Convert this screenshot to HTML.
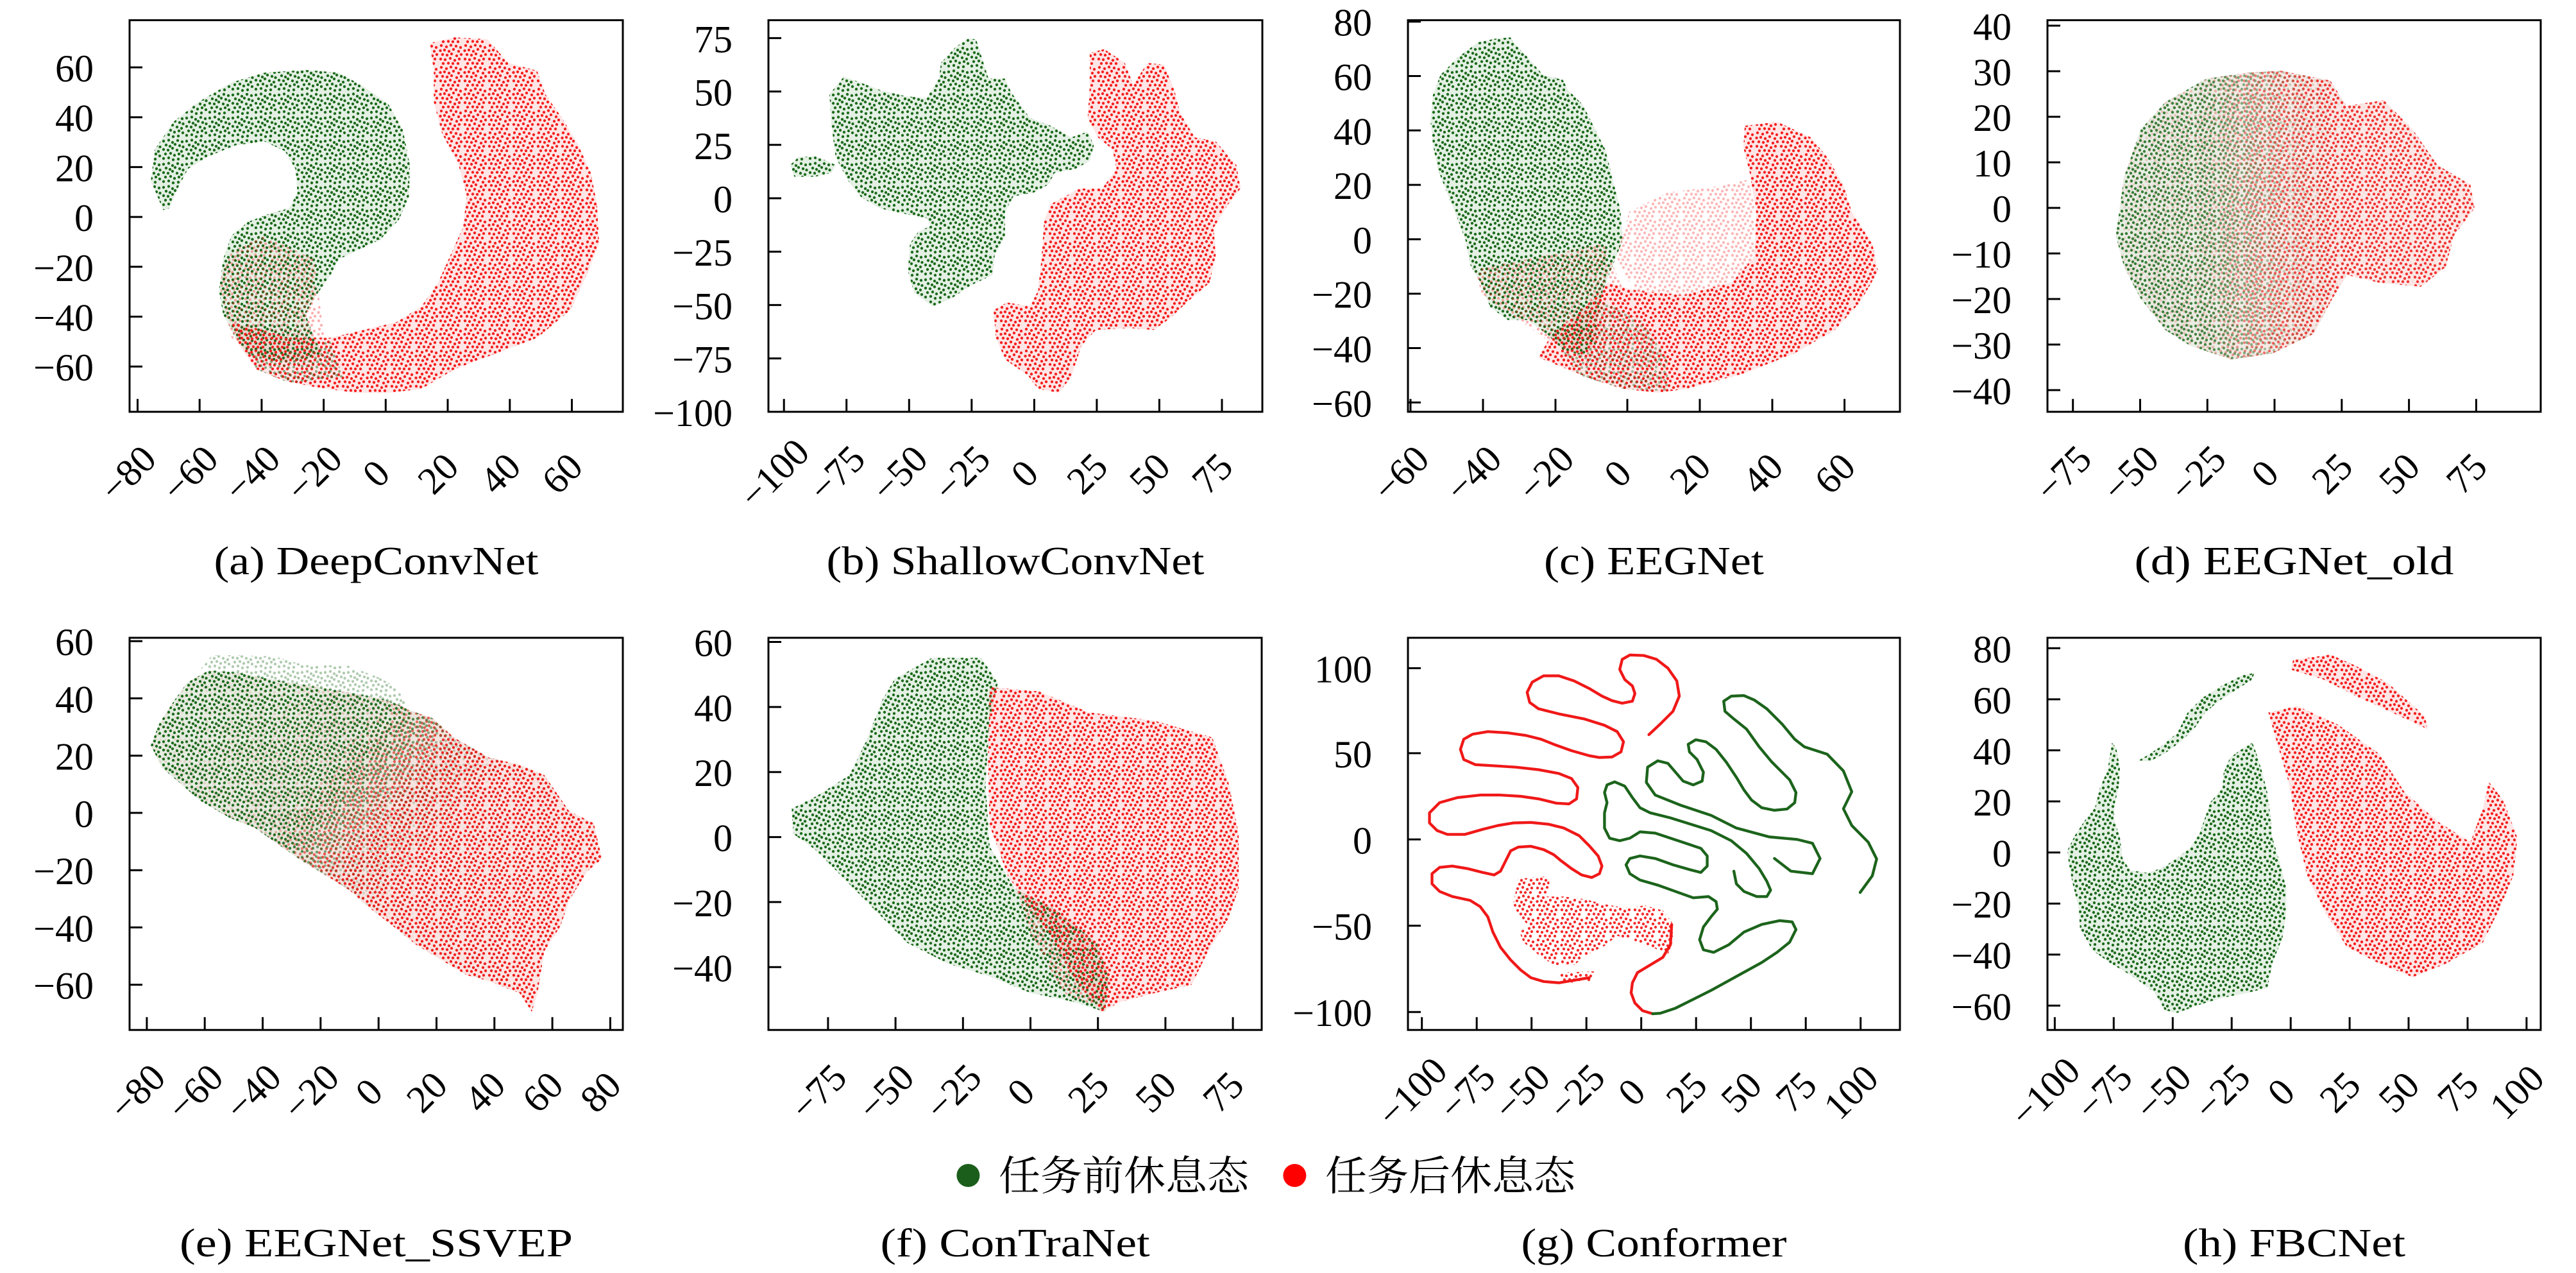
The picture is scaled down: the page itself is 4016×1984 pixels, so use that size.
<!DOCTYPE html>
<html><head><meta charset="utf-8"><style>html,body{margin:0;padding:0;background:#fff}svg{display:block}</style></head><body>
<svg xmlns="http://www.w3.org/2000/svg" width="4016" height="1984" viewBox="0 0 4016 1984">
<rect width="4016" height="1984" fill="#fff"/>
<defs>
<pattern id="pg" width="36" height="36" patternUnits="userSpaceOnUse"><g fill="#1d6a1d">
<circle cx="3" cy="4" r="2.2"/><circle cx="11" cy="2.5" r="2.2"/><circle cx="17" cy="6" r="2.2"/><circle cx="25" cy="3" r="2.2"/><circle cx="32" cy="5" r="2.2"/><circle cx="7" cy="10" r="2.2"/><circle cx="13" cy="12" r="2.2"/><circle cx="21" cy="9" r="2.2"/><circle cx="28" cy="11" r="2.2"/><circle cx="33.5" cy="13" r="2.2"/><circle cx="3" cy="17" r="2.2"/><circle cx="10" cy="18" r="2.2"/><circle cx="17" cy="15" r="2.2"/><circle cx="24" cy="18" r="2.2"/><circle cx="31" cy="20" r="2.2"/><circle cx="6" cy="24" r="2.2"/><circle cx="14" cy="23" r="2.2"/><circle cx="20" cy="26" r="2.2"/><circle cx="27" cy="24" r="2.2"/><circle cx="33" cy="27" r="2.2"/><circle cx="3" cy="31" r="2.2"/><circle cx="11" cy="30" r="2.2"/><circle cx="18" cy="33" r="2.2"/><circle cx="26" cy="32" r="2.2"/></g></pattern>
<pattern id="pr" width="38" height="34" patternUnits="userSpaceOnUse"><g fill="#f42020">
<circle cx="4" cy="3" r="2.2"/><circle cx="12" cy="5" r="2.2"/><circle cx="19" cy="2.5" r="2.2"/><circle cx="27" cy="4" r="2.2"/><circle cx="34" cy="6" r="2.2"/><circle cx="2.5" cy="11" r="2.2"/><circle cx="9" cy="10" r="2.2"/><circle cx="16" cy="12" r="2.2"/><circle cx="23" cy="9" r="2.2"/><circle cx="31" cy="12" r="2.2"/><circle cx="6" cy="17" r="2.2"/><circle cx="13" cy="18" r="2.2"/><circle cx="20" cy="16" r="2.2"/><circle cx="28" cy="19" r="2.2"/><circle cx="35" cy="17" r="2.2"/><circle cx="3" cy="24" r="2.2"/><circle cx="10" cy="25" r="2.2"/><circle cx="18" cy="23" r="2.2"/><circle cx="25" cy="26" r="2.2"/><circle cx="32" cy="24" r="2.2"/><circle cx="7" cy="31" r="2.2"/><circle cx="15" cy="30.5" r="2.2"/><circle cx="22" cy="31" r="2.2"/><circle cx="30" cy="31" r="2.2"/></g></pattern>

<!-- Panel a -->
<clipPath id="cAg"><path transform="matrix(0.64413 0 0 0.61224 0 0)" d="M395,535 L365,460 L375,380 L420,310 L480,260 L560,210 L640,185 L740,178 L820,185 L880,220 L940,265 L975,330 L992,420 L990,500 L965,560 L920,610 L860,640 L820,660 L800,700 L760,760 L740,800 L760,860 L780,900 L720,920 L660,920 L600,900 L570,860 L540,800 L530,740 L540,660 L560,600 L600,565 L650,545 L700,530 L720,490 L715,430 L690,385 L640,360 L570,370 L500,400 L455,430 L430,480 L410,530 Z"/></clipPath>
<clipPath id="cAr"><path transform="matrix(0.64413 0 0 0.61224 0 0)" d="M1040,110 L1100,95 L1180,100 L1230,160 L1300,180 L1320,240 L1360,300 L1400,370 L1430,440 L1445,520 L1450,620 L1420,700 L1380,790 L1300,860 L1200,900 L1100,940 L1020,990 L940,1000 L860,1000 L760,985 L690,970 L620,940 L580,880 L560,820 L600,830 L700,860 L800,860 L880,840 L960,820 L1020,780 L1060,720 L1090,650 L1120,580 L1130,500 L1110,420 L1070,340 L1050,260 L1050,180 Z"/></clipPath>
<clipPath id="cAm1"><path transform="matrix(0.64413 0 0 0.61224 0 0)" d="M530,720 L560,640 L640,600 L760,660 L790,900 L640,930 L560,860 Z"/></clipPath>
<clipPath id="cAm2"><path transform="matrix(0.64413 0 0 0.61224 0 0)" d="M600,880 L700,880 L800,870 L830,960 L700,975 L620,940 Z"/></clipPath>

<!-- Panel b -->
<clipPath id="cBg"><path transform="matrix(0.64413 0 0 0.61224 1000 0)" d="M360,420 L380,400 L420,398 L450,410 L470,420 L460,440 L420,450 L370,450 Z M455,240 L490,195 L530,210 L580,230 L640,245 L690,250 L720,200 L725,160 L760,120 L790,98 L810,100 L825,150 L840,200 L880,200 L895,235 L940,300 L990,320 L1040,350 L1080,335 L1095,370 L1085,410 L1050,430 L1000,440 L985,470 L950,490 L900,500 L880,540 L880,600 L855,650 L850,700 L800,725 L750,760 L705,780 L660,745 L645,690 L650,620 L670,590 L700,575 L690,555 L640,545 L575,530 L530,500 L500,460 L470,400 L460,320 Z"/></clipPath>
<clipPath id="cBr"><path transform="matrix(0.64413 0 0 0.61224 1000 0)" d="M1085,135 L1120,125 L1170,160 L1190,215 L1225,160 L1265,165 L1290,230 L1305,290 L1340,350 L1390,360 L1440,420 L1450,480 L1420,520 L1385,580 L1390,650 L1375,720 L1320,770 L1280,810 L1240,840 L1180,835 L1100,840 L1065,880 L1040,960 L1010,1000 L960,990 L935,955 L880,915 L858,860 L852,790 L885,770 L940,780 L960,740 L968,660 L975,560 L990,520 L1060,480 L1115,480 L1150,430 L1140,380 L1105,350 L1080,300 L1085,220 Z"/></clipPath>

<!-- Panel c (full coords) -->
<clipPath id="cCg"><path d="M2230,187 L2234,148 L2245.7,116.7 L2273,89.5 L2304,66 L2331.4,60.2 L2354.8,58.3 L2366.5,73.9 L2382,89.5 L2405.4,116.7 L2436.6,124.5 L2444.4,140 L2467.8,163.5 L2487.3,202.5 L2502.9,233.6 L2510.7,264.8 L2518.5,296 L2526.3,327.2 L2530,374 L2514.6,413 L2499,452 L2491,498.7 L2487.3,537.6 L2467.8,553.2 L2436.6,545.4 L2413.2,522 L2382,498.7 L2350.9,498.7 L2323.6,479.2 L2308,440.2 L2292.4,413 L2284.6,374 L2273,342.8 L2257.4,303.8 L2241.8,264.8 L2234,225.9 Z"/></clipPath>
<clipPath id="cCr"><path d="M2720,196 L2771,190 L2823,214 L2848.6,245 L2874,288 L2887,330.6 L2919,379.6 L2928,422.4 L2900,471 L2861,514 L2797,551 L2720,581.6 L2630,606 L2584.7,612 L2530,606 L2480,590 L2430,570 L2398,557 L2420,520 L2470,480 L2507,440 L2546,452 L2624,460 L2700,440 L2735,400 L2738,330 L2728,270 L2718,230 Z"/></clipPath>
<clipPath id="cCm1"><path d="M2300,420 L2400,400 L2500,380 L2530,450 L2500,540 L2440,550 L2370,500 L2310,460 Z"/></clipPath>
<clipPath id="cCm2"><path d="M2420,520 L2500,470 L2560,500 L2600,560 L2600,610 L2530,606 L2460,585 Z"/></clipPath>
<clipPath id="cCm3"><path d="M2540,330 L2600,300 L2680,290 L2725,280 L2738,330 L2735,400 L2700,440 L2624,460 L2546,452 L2520,400 Z"/></clipPath>

<!-- Panel d -->
<clipPath id="cD"><path transform="matrix(1.28571 0 0 0.61224 2000 0)" d="M1010,600 L1020,450 L1040,330 L1070,260 L1120,200 L1170,185 L1210,180 L1270,205 L1290,270 L1335,255 L1370,330 L1400,420 L1440,470 L1445,530 L1420,600 L1410,680 L1380,730 L1330,720 L1290,700 L1270,770 L1250,850 L1200,900 L1150,915 L1100,880 L1070,840 L1040,760 L1020,680 Z"/></clipPath>
<linearGradient id="lgdg" gradientUnits="userSpaceOnUse" x1="3300" y1="0" x2="3700" y2="0"><stop offset="0" stop-color="#fff"/><stop offset="0.35" stop-color="#e6e6e6"/><stop offset="0.65" stop-color="#4d4d4d"/><stop offset="0.875" stop-color="#141414"/><stop offset="1" stop-color="#0d0d0d"/></linearGradient>
<linearGradient id="lgdr" gradientUnits="userSpaceOnUse" x1="3300" y1="0" x2="3650" y2="0"><stop offset="0" stop-color="#262626"/><stop offset="0.4" stop-color="#4d4d4d"/><stop offset="0.69" stop-color="#ccc"/><stop offset="0.91" stop-color="#fff"/><stop offset="1" stop-color="#fff"/></linearGradient>
<mask id="mdg" maskUnits="userSpaceOnUse" x="3192" y="31" width="769" height="611"><rect x="3192" y="31" width="769" height="611" fill="url(#lgdg)"/></mask>
<mask id="mdr" maskUnits="userSpaceOnUse" x="3192" y="31" width="769" height="611"><rect x="3192" y="31" width="769" height="611" fill="url(#lgdr)"/></mask>

<!-- Panel e (full coords) -->
<clipPath id="cE"><path d="M235,1161.6 L248.8,1126.5 L272,1091.4 L291.6,1064 L325,1045 L370,1048 L430,1060 L490,1070 L550,1080 L600,1090 L625,1100 L638.5,1107 L673.6,1118.7 L708.6,1150 L763,1181 L810,1191.8 L848.6,1208 L887,1263.7 L925.7,1283 L938.6,1338.8 L915.4,1358 L887,1404 L874,1443 L848.6,1482.4 L838,1547.8 L829,1577 L810,1547.8 L758.6,1528 L728,1520 L689,1496.7 L650,1473.4 L611,1442 L576,1414.9 L545,1387.6 L513.8,1368 L474.8,1344.7 L435.8,1317.5 L397,1290 L358,1274.6 L311,1247.3 L280,1220 L252.7,1196.6 Z"/></clipPath>
<clipPath id="cEs"><path d="M311,1044.7 L330.6,1021.3 L369.6,1021.3 L428,1023 L474.8,1036.9 L541,1036.9 L591.7,1056.4 L619,1072 L638.5,1107 L625,1100 L600,1090 L550,1080 L490,1070 L430,1060 L370,1048 L325,1045 Z"/></clipPath>
<linearGradient id="lgeg" gradientUnits="userSpaceOnUse" x1="321" y1="1090" x2="823" y2="1515"><stop offset="0" stop-color="#fff"/><stop offset="0.37" stop-color="#f2f2f2"/><stop offset="0.5" stop-color="#4d4d4d"/><stop offset="0.65" stop-color="#141414"/><stop offset="1" stop-color="#080808"/></linearGradient>
<linearGradient id="lger" gradientUnits="userSpaceOnUse" x1="321" y1="1090" x2="823" y2="1515"><stop offset="0" stop-color="#1a1a1a"/><stop offset="0.32" stop-color="#404040"/><stop offset="0.45" stop-color="#ccc"/><stop offset="0.52" stop-color="#fff"/><stop offset="1" stop-color="#fff"/></linearGradient>
<mask id="meg" maskUnits="userSpaceOnUse" x="202" y="994" width="769" height="611"><rect x="202" y="994" width="769" height="611" fill="url(#lgeg)"/></mask>
<mask id="mer" maskUnits="userSpaceOnUse" x="202" y="994" width="769" height="611"><rect x="202" y="994" width="769" height="611" fill="url(#lger)"/></mask>

<!-- Panel f -->
<clipPath id="cFg"><path transform="matrix(1.28571 0 0 0.65306 0 960)" d="M960,460 L990,430 L1030,380 L1050,300 L1070,200 L1085,150 L1130,100 L1190,100 L1210,160 L1200,250 L1195,400 L1200,550 L1230,650 L1280,700 L1330,780 L1345,860 L1340,945 L1300,920 L1250,900 L1200,860 L1150,830 L1100,780 L1060,700 L1020,620 L990,560 L962,520 Z"/></clipPath>
<clipPath id="cFr"><path transform="matrix(1.28571 0 0 0.65306 0 960)" d="M1200,170 L1260,180 L1320,230 L1400,250 L1470,290 L1490,400 L1502,520 L1502,650 L1490,720 L1465,800 L1445,880 L1400,900 L1360,920 L1335,945 L1300,860 L1280,780 L1250,700 L1222,620 L1200,500 L1198,350 Z"/></clipPath>
<clipPath id="cFm"><path transform="matrix(1.28571 0 0 0.65306 0 960)" d="M1230,640 L1300,680 L1340,800 L1340,940 L1290,900 L1250,760 Z"/></clipPath>

<!-- Panel g -->
<clipPath id="cGr"><path transform="matrix(0.39541 0 0 0.39541 2193 990)" d="M440,960 L560,950 L565,1000 L545,1030 L620,1030 L700,1040 L780,1060 L860,1075 L940,1065 L1010,1085 L1045,1130 L1052,1200 L1030,1260 L980,1235 L900,1205 L830,1185 L780,1225 L720,1255 L660,1300 L580,1300 L520,1260 L460,1210 L445,1170 L480,1145 L440,1100 L420,1060 L430,1010 Z M600,1330 L740,1325 L730,1365 L600,1372 Z"/></clipPath>

<!-- Panel h -->
<clipPath id="cHg"><path transform="matrix(0.38971 0 0 0.38971 3192 994)" d="M365,490 L400,470 L460,430 L520,380 L560,300 L620,240 L700,190 L780,150 L830,140 L815,170 L760,205 L690,250 L630,300 L590,360 L540,410 L480,455 L410,495 Z M258,420 L275,440 L290,520 L285,600 L270,660 L265,720 L290,800 L300,880 L330,930 L400,940 L460,920 L520,880 L570,840 L610,780 L630,720 L650,660 L700,600 L705,540 L730,480 L770,450 L820,420 L835,460 L860,540 L880,620 L890,700 L900,800 L930,900 L955,1000 L955,1100 L940,1200 L900,1300 L880,1400 L800,1420 L700,1440 L600,1470 L520,1500 L470,1490 L430,1420 L350,1360 L250,1300 L180,1250 L130,1160 L125,1080 L100,980 L85,900 L80,850 L110,790 L150,730 L190,680 L210,600 L240,530 L250,470 Z"/></clipPath>
<clipPath id="cHr"><path transform="matrix(1.28571 0 0 0.65306 2000 960)" d="M1195,230 L1230,215 L1280,260 L1330,330 L1360,420 L1400,490 L1440,540 L1455,460 L1462,395 L1480,440 L1497,530 L1492,620 L1475,700 L1455,780 L1410,830 L1370,862 L1330,830 L1290,790 L1262,700 L1242,620 L1230,520 L1220,400 L1205,300 Z M1225,105 L1270,92 L1300,118 L1340,160 L1385,240 L1388,270 L1350,235 L1300,190 L1260,150 L1222,128 Z"/></clipPath>
</defs>

<!-- ===== Scatter clouds ===== -->
<!-- a -->
<g clip-path="url(#cAg)"><rect x="202" y="31" width="769" height="611" fill="#2e8b2e" opacity="0.13"/><rect x="202" y="31" width="769" height="611" fill="url(#pg)"/></g>
<g clip-path="url(#cAr)"><rect x="202" y="31" width="769" height="611" fill="#ff3030" opacity="0.12"/><rect x="202" y="31" width="769" height="611" fill="url(#pr)"/></g>
<g clip-path="url(#cAm1)" opacity="0.35"><rect x="202" y="31" width="769" height="611" fill="url(#pr)"/></g>
<g clip-path="url(#cAm2)" opacity="0.5"><rect x="202" y="31" width="769" height="611" fill="url(#pg)"/></g>
<!-- b -->
<g clip-path="url(#cBg)"><rect x="1198" y="31" width="770" height="611" fill="#2e8b2e" opacity="0.13"/><rect x="1198" y="31" width="770" height="611" fill="url(#pg)"/></g>
<g clip-path="url(#cBr)"><rect x="1198" y="31" width="770" height="611" fill="#ff3030" opacity="0.12"/><rect x="1198" y="31" width="770" height="611" fill="url(#pr)"/></g>
<!-- c -->
<g clip-path="url(#cCg)"><rect x="2195" y="31" width="767" height="611" fill="#2e8b2e" opacity="0.13"/><rect x="2195" y="31" width="767" height="611" fill="url(#pg)"/></g>
<g clip-path="url(#cCr)"><rect x="2195" y="31" width="767" height="611" fill="#ff3030" opacity="0.12"/><rect x="2195" y="31" width="767" height="611" fill="url(#pr)"/></g>
<g clip-path="url(#cCm1)" opacity="0.35"><rect x="2195" y="31" width="767" height="611" fill="url(#pr)"/></g>
<g clip-path="url(#cCm2)" opacity="0.4"><rect x="2195" y="31" width="767" height="611" fill="url(#pg)"/></g>
<g clip-path="url(#cCm3)" opacity="0.32"><rect x="2195" y="31" width="767" height="611" fill="url(#pr)"/></g>
<!-- d -->
<g clip-path="url(#cD)" opacity="0.9">
<g mask="url(#mdr)"><rect x="3192" y="31" width="769" height="611" fill="#ff3030" opacity="0.12"/><rect x="3192" y="31" width="769" height="611" fill="url(#pr)"/></g>
<g mask="url(#mdg)"><rect x="3192" y="31" width="769" height="611" fill="#2e8b2e" opacity="0.13"/><rect x="3192" y="31" width="769" height="611" fill="url(#pg)"/></g>
</g>
<!-- e -->
<g clip-path="url(#cE)">
<g mask="url(#mer)"><rect x="202" y="994" width="769" height="611" fill="#ff3030" opacity="0.12"/><rect x="202" y="994" width="769" height="611" fill="url(#pr)"/></g>
<g mask="url(#meg)"><rect x="202" y="994" width="769" height="611" fill="#2e8b2e" opacity="0.13"/><rect x="202" y="994" width="769" height="611" fill="url(#pg)"/></g>
</g>
<g clip-path="url(#cEs)" opacity="0.35"><rect x="202" y="994" width="769" height="611" fill="url(#pg)"/></g>
<!-- f -->
<g clip-path="url(#cFg)"><rect x="1198" y="994" width="769" height="611" fill="#2e8b2e" opacity="0.13"/><rect x="1198" y="994" width="769" height="611" fill="url(#pg)"/></g>
<g clip-path="url(#cFr)"><rect x="1198" y="994" width="769" height="611" fill="#ff3030" opacity="0.12"/><rect x="1198" y="994" width="769" height="611" fill="url(#pr)"/></g>
<g clip-path="url(#cFm)" opacity="0.4"><rect x="1198" y="994" width="769" height="611" fill="url(#pr)"/></g>
<!-- g -->
<g clip-path="url(#cGr)" opacity="0.95"><rect x="2195" y="994" width="767" height="611" fill="url(#pr)"/></g>
<g transform="matrix(0.39541 0 0 0.39541 2193 990)" fill="none" stroke-width="11" stroke-linejoin="round" stroke-linecap="round">
<polyline stroke="#f01818" points="955,392 1000,350 1050,300 1075,240 1065,180 1030,130 985,95 935,80 880,78 850,95 840,135 860,175 890,200 900,230 890,260 850,268 810,258 770,240 720,210 660,180 600,160 540,160 495,185 475,225 485,265 520,290 600,310 700,330 780,355 830,380 855,420 845,460 810,480 760,482 720,475 650,455 580,430 530,410 470,395 400,385 320,380 260,390 225,410 212,450 225,490 270,510 350,515 430,520 520,530 600,545 650,565 675,600 670,645 640,665 590,662 520,645 450,635 370,630 290,630 200,640 130,660 90,700 90,740 120,770 160,785 230,785 300,765 360,750 420,740 490,738 560,745 620,760 680,790 720,830 755,870 770,910 760,940 730,955 690,945 650,920 610,890 580,865 540,845 490,832 440,835 410,850 390,890 370,930 345,945 300,935 240,920 180,910 130,915 100,940 100,980 130,1010 180,1030 250,1045 290,1070 320,1110 340,1170 370,1230 410,1280 450,1320 490,1350 540,1365 600,1370 660,1360 720,1350"/>
<polyline stroke="#f01818" points="1045,1140 1040,1220 1010,1270 960,1300 910,1330 890,1370 885,1410 900,1450 930,1480 970,1492"/>
<polyline stroke="#1c641c" points="1450,880 1515,930 1600,940 1630,880 1600,820 1540,805 1430,795 1300,760 1200,710 1080,670 980,630 945,580 950,520 990,495 1030,505 1060,540 1090,575 1130,590 1165,575 1170,540 1145,490 1115,460 1110,430 1140,412 1180,420 1220,450 1260,500 1300,560 1330,610 1360,650 1400,680 1450,690 1500,685 1530,660 1535,620 1510,570 1480,540 1440,500 1390,440 1340,370 1290,330 1255,300 1250,260 1280,240 1330,238 1370,255 1420,290 1480,350 1530,410 1568,440 1658,469 1722,535 1755,617 1722,684 1755,750 1820,816 1853,882 1836,948 1788,1014"/>
<polyline stroke="#1c641c" points="1290,930 1300,980 1330,1010 1380,1030 1420,1030 1435,1005 1420,970 1390,920 1340,860 1280,810 1200,770 1120,745 1040,720 960,700 920,680 890,640 860,595 820,578 790,590 780,620 790,660 780,700 780,760 800,800 840,810 880,800 920,775 980,780 1040,800 1100,820 1160,840 1185,870 1185,910 1160,935 1120,925 1050,905 980,880 920,870 880,880 865,905 880,940 920,965 990,985 1060,1010 1130,1035 1190,1030 1220,1050 1225,1080 1200,1110 1170,1150 1155,1200 1170,1240 1210,1250 1270,1220 1330,1170 1400,1140 1470,1125 1520,1130 1535,1160 1510,1210 1460,1250 1400,1290 1300,1345 1200,1400 1120,1440 1060,1470 1000,1490 970,1492"/>
</g>
<!-- h -->
<g clip-path="url(#cHg)"><rect x="3192" y="994" width="769" height="611" fill="#2e8b2e" opacity="0.13"/><rect x="3192" y="994" width="769" height="611" fill="url(#pg)"/></g>
<g clip-path="url(#cHr)"><rect x="3192" y="994" width="769" height="611" fill="#ff3030" opacity="0.12"/><rect x="3192" y="994" width="769" height="611" fill="url(#pr)"/></g>

<!-- ===== Frames and ticks ===== -->
<g fill="none" stroke="#000" stroke-width="3">
<rect x="202" y="31.5" width="769" height="610.3"/>
<rect x="1198" y="31.5" width="770" height="610.3"/>
<rect x="2195" y="31.5" width="767" height="610.3"/>
<rect x="3192" y="31.5" width="769" height="610.3"/>
<rect x="202" y="994" width="769" height="611.2"/>
<rect x="1198" y="994" width="769" height="611.2"/>
<rect x="2195" y="994" width="767" height="611.2"/>
<rect x="3192" y="994" width="769" height="611.2"/>
<path d="M202 105h20M202 182.7h20M202 260.4h20M202 338.1h20M202 415.8h20M202 493.5h20M202 571.2h20
M214.5 641.8v-20M311.2 641.8v-20M407.9 641.8v-20M504.6 641.8v-20M601.3 641.8v-20M698 641.8v-20M794.8 641.8v-20M891.5 641.8v-20"/>
<path d="M1198 59.4h20M1198 142.6h20M1198 225.8h20M1198 309h20M1198 392.2h20M1198 475.4h20M1198 558.6h20
M1222.2 641.8v-20M1319.7 641.8v-20M1417.3 641.8v-20M1514.8 641.8v-20M1612.4 641.8v-20M1709.9 641.8v-20M1807.4 641.8v-20M1905 641.8v-20"/>
<path d="M2195 33.7h20M2195 118.5h20M2195 203.3h20M2195 288.1h20M2195 372.9h20M2195 457.7h20M2195 542.5h20M2195 627.3h20
M2199 641.8v-20M2312 641.8v-20M2425 641.8v-20M2537 641.8v-20M2650 641.8v-20M2763 641.8v-20M2875.6 641.8v-20"/>
<path d="M3192 40h20M3192 111h20M3192 182h20M3192 253h20M3192 324h20M3192 395h20M3192 466h20M3192 537h20M3192 608h20
M3231.7 641.8v-20M3336.5 641.8v-20M3441.3 641.8v-20M3546 641.8v-20M3650.8 641.8v-20M3755.6 641.8v-20M3860.4 641.8v-20"/>
<path d="M202 999.2h20M202 1088.4h20M202 1177.7h20M202 1266.9h20M202 1356.2h20M202 1445.4h20M202 1534.7h20
M228.9 1605.2v-20M319.2 1605.2v-20M409.5 1605.2v-20M499.8 1605.2v-20M590.2 1605.2v-20M680.5 1605.2v-20M770.8 1605.2v-20M861.1 1605.2v-20M951.4 1605.2v-20"/>
<path d="M1198 1000.5h20M1198 1101.9h20M1198 1203.2h20M1198 1304.6h20M1198 1405.9h20M1198 1507.3h20
M1290.9 1605.2v-20M1396.1 1605.2v-20M1501.3 1605.2v-20M1606.5 1605.2v-20M1711.7 1605.2v-20M1816.9 1605.2v-20M1922.1 1605.2v-20"/>
<path d="M2195 1041.4h20M2195 1173.9h20M2195 1308.3h20M2195 1442.7h20M2195 1577.2h20
M2216.7 1605.2v-20M2302.2 1605.2v-20M2387.7 1605.2v-20M2473.2 1605.2v-20M2558.7 1605.2v-20M2644.2 1605.2v-20M2729.7 1605.2v-20M2815.2 1605.2v-20M2900.7 1605.2v-20"/>
<path d="M3192 1010.3h20M3192 1089.9h20M3192 1169.4h20M3192 1249h20M3192 1328.6h20M3192 1408.2h20M3192 1487.7h20M3192 1567.3h20
M3203.4 1605.2v-20M3295.3 1605.2v-20M3387.3 1605.2v-20M3479.2 1605.2v-20M3571.2 1605.2v-20M3663.1 1605.2v-20M3755 1605.2v-20M3847 1605.2v-20M3938.9 1605.2v-20"/>
</g>

<!-- ===== Y tick labels ===== -->
<g font-family="'Liberation Serif', serif" font-size="60" fill="#000" text-anchor="end">
<text x="146" y="127">60</text><text x="146" y="204.7">40</text><text x="146" y="282.4">20</text><text x="146" y="360.1">0</text><text x="146" y="437.8">−20</text><text x="146" y="515.5">−40</text><text x="146" y="593.2">−60</text>
<text x="1142" y="81.4">75</text><text x="1142" y="164.6">50</text><text x="1142" y="247.8">25</text><text x="1142" y="331">0</text><text x="1142" y="414.2">−25</text><text x="1142" y="497.4">−50</text><text x="1142" y="580.6">−75</text><text x="1142" y="663.8">−100</text>
<text x="2139" y="55.7">80</text><text x="2139" y="140.5">60</text><text x="2139" y="225.3">40</text><text x="2139" y="310.1">20</text><text x="2139" y="394.9">0</text><text x="2139" y="479.7">−20</text><text x="2139" y="564.5">−40</text><text x="2139" y="649.3">−60</text>
<text x="3136" y="62">40</text><text x="3136" y="133">30</text><text x="3136" y="204">20</text><text x="3136" y="275">10</text><text x="3136" y="346">0</text><text x="3136" y="417">−10</text><text x="3136" y="488">−20</text><text x="3136" y="559">−30</text><text x="3136" y="630">−40</text>
<text x="146" y="1021.2">60</text><text x="146" y="1110.4">40</text><text x="146" y="1199.7">20</text><text x="146" y="1288.9">0</text><text x="146" y="1378.2">−20</text><text x="146" y="1467.4">−40</text><text x="146" y="1556.7">−60</text>
<text x="1142" y="1022.5">60</text><text x="1142" y="1123.9">40</text><text x="1142" y="1225.2">20</text><text x="1142" y="1326.6">0</text><text x="1142" y="1427.9">−20</text><text x="1142" y="1529.3">−40</text>
<text x="2139" y="1063.4">100</text><text x="2139" y="1195.9">50</text><text x="2139" y="1330.3">0</text><text x="2139" y="1464.7">−50</text><text x="2139" y="1599.2">−100</text>
<text x="3136" y="1032.3">80</text><text x="3136" y="1111.9">60</text><text x="3136" y="1191.4">40</text><text x="3136" y="1271">20</text><text x="3136" y="1350.6">0</text><text x="3136" y="1430.2">−20</text><text x="3136" y="1509.7">−40</text><text x="3136" y="1589.3">−60</text>
</g>

<!-- ===== X tick labels (rotated) ===== -->
<g font-family="'Liberation Serif', serif" font-size="60" fill="#000" text-anchor="middle">
<text transform="translate(199.5 738) rotate(-45)" y="20">−80</text><text transform="translate(296.2 738) rotate(-45)" y="20">−60</text><text transform="translate(392.9 738) rotate(-45)" y="20">−40</text><text transform="translate(489.6 738) rotate(-45)" y="20">−20</text><text transform="translate(586.3 738) rotate(-45)" y="20">0</text><text transform="translate(683 738) rotate(-45)" y="20">20</text><text transform="translate(779.8 738) rotate(-45)" y="20">40</text><text transform="translate(876.5 738) rotate(-45)" y="20">60</text>
<text transform="translate(1207.2 738) rotate(-45)" y="20">−100</text><text transform="translate(1304.7 738) rotate(-45)" y="20">−75</text><text transform="translate(1402.3 738) rotate(-45)" y="20">−50</text><text transform="translate(1499.8 738) rotate(-45)" y="20">−25</text><text transform="translate(1597.4 738) rotate(-45)" y="20">0</text><text transform="translate(1694.9 738) rotate(-45)" y="20">25</text><text transform="translate(1792.4 738) rotate(-45)" y="20">50</text><text transform="translate(1890 738) rotate(-45)" y="20">75</text>
<text transform="translate(2184 738) rotate(-45)" y="20">−60</text><text transform="translate(2297 738) rotate(-45)" y="20">−40</text><text transform="translate(2410 738) rotate(-45)" y="20">−20</text><text transform="translate(2522 738) rotate(-45)" y="20">0</text><text transform="translate(2635 738) rotate(-45)" y="20">20</text><text transform="translate(2748 738) rotate(-45)" y="20">40</text><text transform="translate(2860.6 738) rotate(-45)" y="20">60</text>
<text transform="translate(3216.7 738) rotate(-45)" y="20">−75</text><text transform="translate(3321.5 738) rotate(-45)" y="20">−50</text><text transform="translate(3426.3 738) rotate(-45)" y="20">−25</text><text transform="translate(3531 738) rotate(-45)" y="20">0</text><text transform="translate(3635.8 738) rotate(-45)" y="20">25</text><text transform="translate(3740.6 738) rotate(-45)" y="20">50</text><text transform="translate(3845.4 738) rotate(-45)" y="20">75</text>
<text transform="translate(213.9 1702) rotate(-45)" y="20">−80</text><text transform="translate(304.2 1702) rotate(-45)" y="20">−60</text><text transform="translate(394.5 1702) rotate(-45)" y="20">−40</text><text transform="translate(484.8 1702) rotate(-45)" y="20">−20</text><text transform="translate(575.2 1702) rotate(-45)" y="20">0</text><text transform="translate(665.5 1702) rotate(-45)" y="20">20</text><text transform="translate(755.8 1702) rotate(-45)" y="20">40</text><text transform="translate(846.1 1702) rotate(-45)" y="20">60</text><text transform="translate(936.4 1702) rotate(-45)" y="20">80</text>
<text transform="translate(1275.9 1702) rotate(-45)" y="20">−75</text><text transform="translate(1381.1 1702) rotate(-45)" y="20">−50</text><text transform="translate(1486.3 1702) rotate(-45)" y="20">−25</text><text transform="translate(1591.5 1702) rotate(-45)" y="20">0</text><text transform="translate(1696.7 1702) rotate(-45)" y="20">25</text><text transform="translate(1801.9 1702) rotate(-45)" y="20">50</text><text transform="translate(1907.1 1702) rotate(-45)" y="20">75</text>
<text transform="translate(2201.7 1702) rotate(-45)" y="20">−100</text><text transform="translate(2287.2 1702) rotate(-45)" y="20">−75</text><text transform="translate(2372.7 1702) rotate(-45)" y="20">−50</text><text transform="translate(2458.2 1702) rotate(-45)" y="20">−25</text><text transform="translate(2543.7 1702) rotate(-45)" y="20">0</text><text transform="translate(2629.2 1702) rotate(-45)" y="20">25</text><text transform="translate(2714.7 1702) rotate(-45)" y="20">50</text><text transform="translate(2800.2 1702) rotate(-45)" y="20">75</text><text transform="translate(2885.7 1702) rotate(-45)" y="20">100</text>
<text transform="translate(3188.4 1702) rotate(-45)" y="20">−100</text><text transform="translate(3280.3 1702) rotate(-45)" y="20">−75</text><text transform="translate(3372.3 1702) rotate(-45)" y="20">−50</text><text transform="translate(3464.2 1702) rotate(-45)" y="20">−25</text><text transform="translate(3556.2 1702) rotate(-45)" y="20">0</text><text transform="translate(3648.1 1702) rotate(-45)" y="20">25</text><text transform="translate(3740 1702) rotate(-45)" y="20">50</text><text transform="translate(3832 1702) rotate(-45)" y="20">75</text><text transform="translate(3923.9 1702) rotate(-45)" y="20">100</text>
</g>

<!-- ===== Captions ===== -->
<g font-family="'Liberation Serif', serif" font-size="62" fill="#000" text-anchor="middle">
<text x="586.5" y="895" textLength="506" lengthAdjust="spacingAndGlyphs">(a) DeepConvNet</text>
<text x="1583" y="895" textLength="589" lengthAdjust="spacingAndGlyphs">(b) ShallowConvNet</text>
<text x="2578.5" y="895" textLength="343" lengthAdjust="spacingAndGlyphs">(c) EEGNet</text>
<text x="3576.5" y="895" textLength="498" lengthAdjust="spacingAndGlyphs">(d) EEGNet_old</text>
<text x="586.5" y="1958" textLength="613" lengthAdjust="spacingAndGlyphs">(e) EEGNet_SSVEP</text>
<text x="1582.5" y="1958" textLength="420" lengthAdjust="spacingAndGlyphs">(f) ConTraNet</text>
<text x="2578.5" y="1958" textLength="414" lengthAdjust="spacingAndGlyphs">(g) Conformer</text>
<text x="3576.5" y="1958" textLength="347" lengthAdjust="spacingAndGlyphs">(h) FBCNet</text>
</g>

<!-- ===== Legend ===== -->
<circle cx="1509.4" cy="1832" r="18" fill="#1b5e1b"/>
<circle cx="2018.4" cy="1832" r="18" fill="#ff0000"/>
<g font-family="'Liberation Serif', 'Noto Serif CJK SC', 'Noto Sans CJK SC', serif" font-size="64" fill="#000">
<text x="1557" y="1855" textLength="390" lengthAdjust="spacingAndGlyphs">任务前休息态</text>
<text x="2066" y="1855" textLength="390" lengthAdjust="spacingAndGlyphs">任务后休息态</text>
</g>
</svg>
</body></html>
